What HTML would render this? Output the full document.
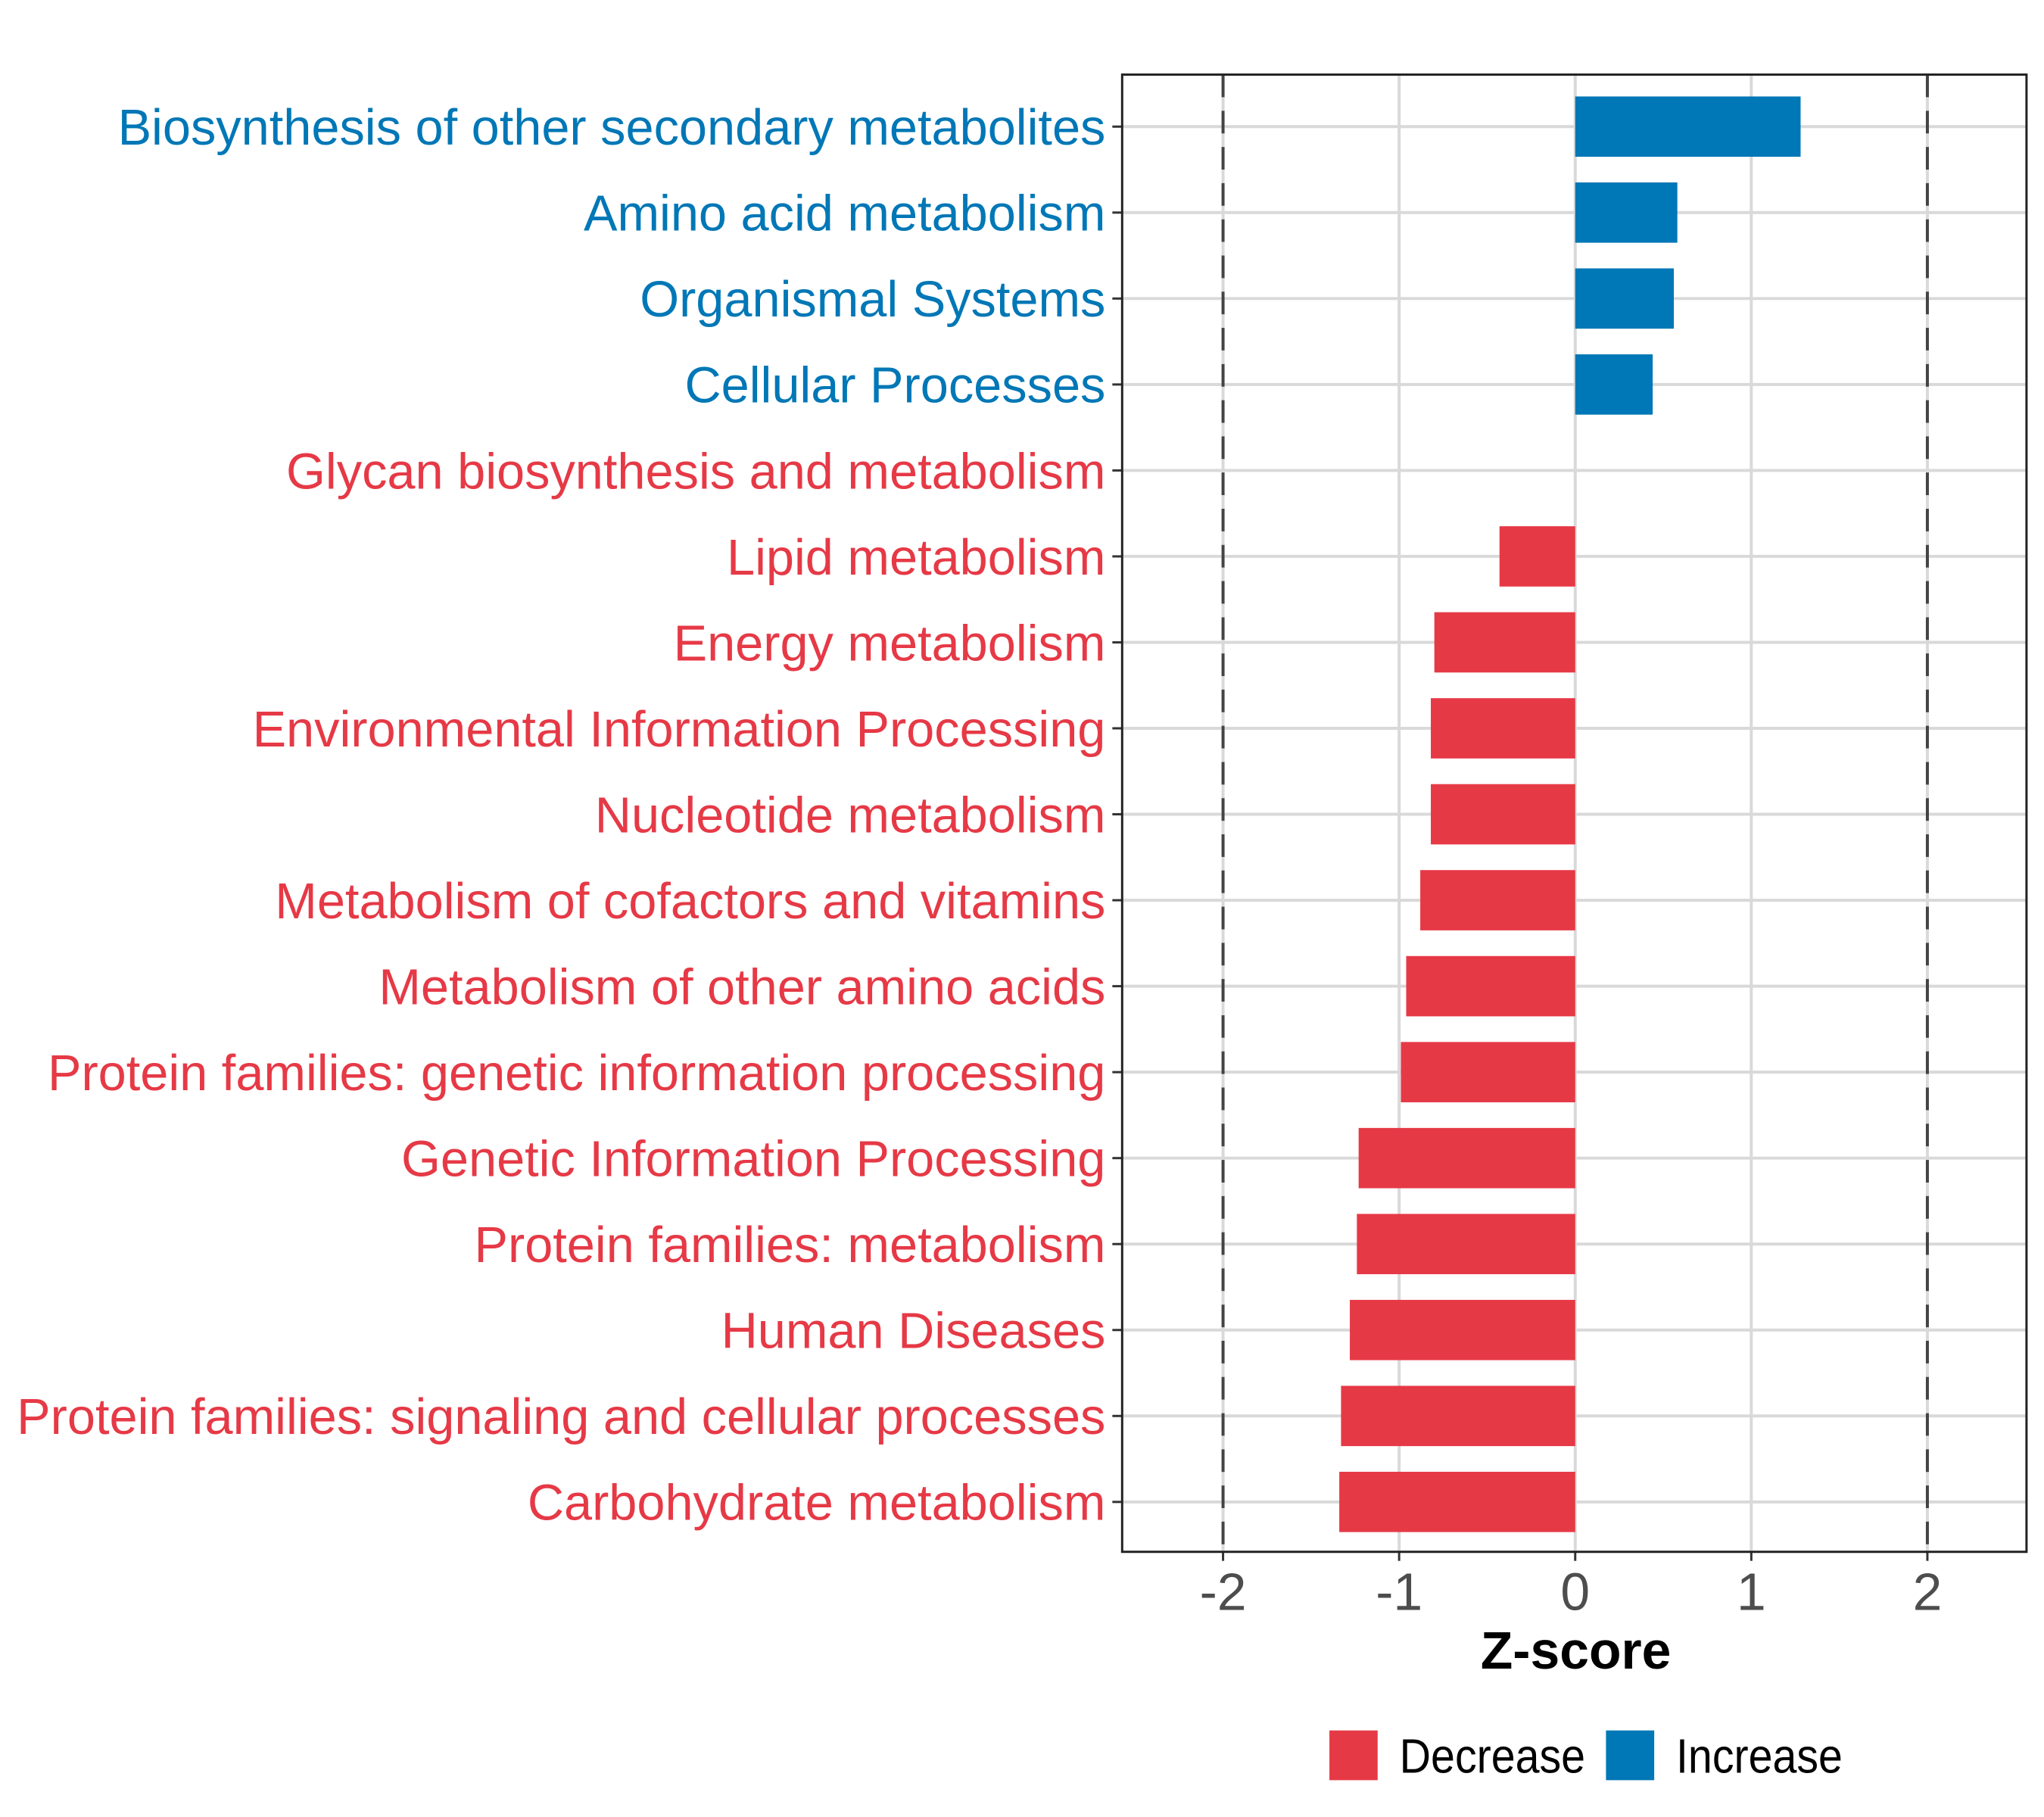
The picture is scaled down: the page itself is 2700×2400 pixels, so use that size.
<!DOCTYPE html>
<html><head><meta charset="utf-8"><style>
html,body{margin:0;padding:0;background:#fff}
svg{display:block}
text{font-family:"Liberation Sans",Arial,sans-serif}
</style></head><body>
<svg id="chart" width="2700" height="2400" viewBox="0 0 2700 2400" xmlns="http://www.w3.org/2000/svg">
<rect width="2700" height="2400" fill="#fff"/>
<g transform="scale(0.9955)">
<g id="grid"></g>
<g id="bars"></g>
<g id="refs"></g>
<g id="ylabels"></g>
<g id="xaxis"></g>
<rect x="1489" y="99" width="1200" height="1960" fill="none" stroke="#222" stroke-width="3"/>
<text x="2091" y="2214" text-anchor="middle" font-size="70" font-weight="bold" fill="#000">Z-score</text>
<g>
  <rect x="1764" y="2296" width="64" height="66" fill="#e63946"/>
  <text transform="translate(1857,2352) scale(0.9,1)" font-size="64" fill="#000">Decrease</text>
  <rect x="2131" y="2296" width="64" height="66" fill="#0077b6"/>
  <text transform="translate(2224,2352) scale(0.9,1)" font-size="64" fill="#000">Increase</text>
</g>
</g>
</svg>
<script>
const categories = ["Biosynthesis of other secondary metabolites","Amino acid metabolism","Organismal Systems","Cellular Processes","Glycan biosynthesis and metabolism","Lipid metabolism","Energy metabolism","Environmental Information Processing","Nucleotide metabolism","Metabolism of cofactors and vitamins","Metabolism of other amino acids","Protein families: genetic information processing","Genetic Information Processing","Protein families: metabolism","Human Diseases","Protein families: signaling and cellular processes","Carbohydrate metabolism"];
const zscores = [1.28,0.58,0.56,0.44,0,-0.43,-0.80,-0.82,-0.82,-0.88,-0.96,-0.99,-1.23,-1.24,-1.28,-1.33,-1.34];
const xTicks = [-2,-1,0,1,2];
const xTickLabels = ["-2","-1","0","1","2"];
const refLines = [-2,2];

const NS="http://www.w3.org/2000/svg";
const P={l:1489,r:2689,t:99,b:2059};
const xMin=-2.573,xMax=2.563;
function xs(v){return P.l+(v-xMin)/(xMax-xMin)*(P.r-P.l);}
const rowStep=114.05, row0=168;
function ys(i){return row0+i*rowStep;}
function mk(tag,attrs,parent){const e=document.createElementNS(NS,tag);for(const k in attrs)e.setAttribute(k,attrs[k]);parent.appendChild(e);return e;}
const grid=document.getElementById('grid'),bars=document.getElementById('bars'),refs=document.getElementById('refs'),yl=document.getElementById('ylabels'),xa=document.getElementById('xaxis');

xTicks.forEach((t,i)=>{
  const g=mk('line',{x1:xs(t),x2:xs(t),y1:P.t,y2:P.b,stroke:'#d9d9d9','stroke-width':4},grid);
  
  
  const tk=mk('line',{x1:xs(t),x2:xs(t),y1:P.b,y2:P.b+12,stroke:'#333','stroke-width':3},xa);
  
  
  const tl=mk('text',{x:xs(t),y:2136,'text-anchor':'middle','font-size':70,fill:'#4d4d4d'},xa);
  tl.textContent=xTickLabels[i];
  
  
});
categories.forEach((c,i)=>{
  const y=ys(i);
  const gl=mk('line',{x1:P.l,x2:P.r,y1:y,y2:y,stroke:'#d9d9d9','stroke-width':4},grid);
  
  
  const v=zscores[i];
  const col=v>0?'#0077b6':'#e63946';
  const x0=Math.min(xs(0),xs(v)),w=Math.abs(xs(v)-xs(0));
  const b=mk('rect',{x:x0,y:y-40,width:w,height:80,fill:col},bars);
  
  
  const tk=mk('line',{x1:P.l-13,x2:P.l,y1:y,y2:y,stroke:'#333','stroke-width':3},yl);
  
  
  const t=mk('text',{x:1467,y:y+24,'text-anchor':'end','font-size':67,fill:col},yl);
  t.textContent=c;
  
  
});
refLines.forEach(r=>{
  const l=mk('line',{x1:xs(r),x2:xs(r),y1:P.t,y2:P.b,stroke:'#444','stroke-width':4,'stroke-dasharray':'30 18'},refs);
  
  
});
</script>
</body></html>
